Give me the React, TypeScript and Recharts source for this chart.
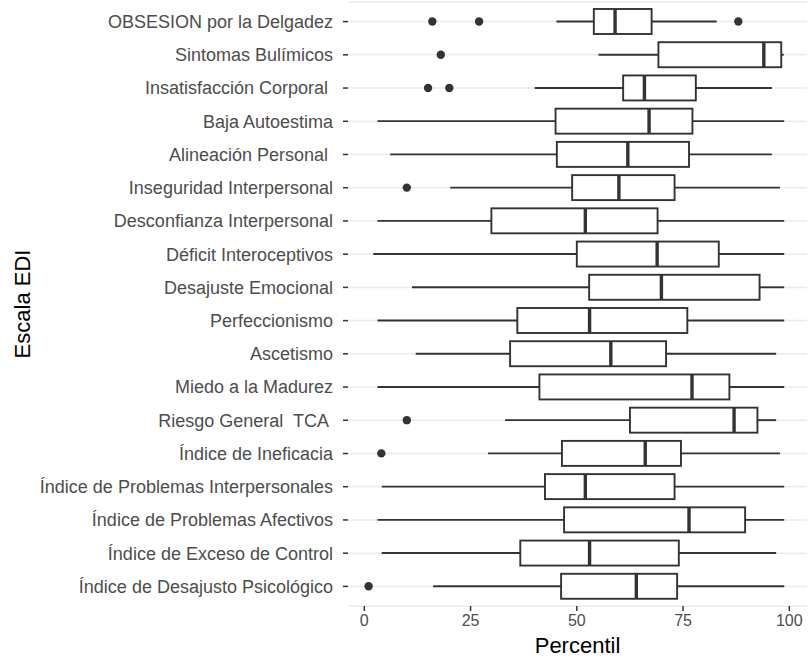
import React from 'react';
import { ComposedChart, Bar, XAxis, YAxis, CartesianGrid } from 'recharts';

// EDI scales, top to bottom (trailing spaces are in the original labels)
const categories = [
  'OBSESION por la Delgadez',
  'Sintomas Bulímicos',
  'Insatisfacción Corporal ',
  'Baja Autoestima',
  'Alineación Personal ',
  'Inseguridad Interpersonal',
  'Desconfianza Interpersonal',
  'Déficit Interoceptivos',
  'Desajuste Emocional',
  'Perfeccionismo',
  'Ascetismo',
  'Miedo a la Madurez',
  'Riesgo General  TCA ',
  'Índice de Ineficacia',
  'Índice de Problemas Interpersonales',
  'Índice de Problemas Afectivos',
  'Índice de Exceso de Control',
  'Índice de Desajusto Psicológico',
];

const whiskerLow = [45.2, 55.1, 40.1, 3.1, 6.1, 20.2, 3.1, 2.1, 11.2, 3.1, 12.1, 3.1, 33.1, 29.1, 4.1, 3.1, 4.1, 16.2];
const q1 = [54.0, 69.2, 60.9, 45.0, 45.3, 48.9, 29.9, 50.0, 52.9, 36.0, 34.3, 41.2, 62.5, 46.5, 42.5, 47.0, 36.7, 46.3];
const median = [59.0, 94.0, 65.9, 67.0, 62.0, 59.9, 52.0, 68.9, 69.9, 53.0, 58.0, 77.1, 87.0, 66.1, 52.0, 76.4, 53.0, 64.0];
const q3 = [67.6, 98.1, 78.0, 77.2, 76.4, 73.0, 69.0, 83.4, 93.0, 76.0, 71.0, 85.9, 92.5, 74.5, 73.0, 89.6, 74.0, 73.6];
const whiskerHigh = [82.9, 98.7, 95.9, 98.8, 95.9, 97.8, 98.8, 98.8, 98.8, 98.8, 96.9, 98.8, 96.9, 97.8, 98.8, 98.8, 96.9, 98.8];
const outliers = [[16, 27, 88], [18], [15, 20], [], [], [10], [], [], [], [], [], [], [10], [4], [], [], [], [1]];

const xTicks = [0, 25, 50, 75, 100];

const data = categories.map((name, i) => ({
  name,
  lo: whiskerLow[i],
  q1: q1[i],
  med: median[i],
  q3: q3[i],
  hi: whiskerHigh[i],
  out: outliers[i],
  range: [whiskerLow[i], whiskerHigh[i]],
}));

const INK = '#333333';

// draws one box: the bar spans lo..hi, everything else is mapped along it
const BoxShape = (props: any) => {
  const { x, y, width, height, payload } = props;
  if (!payload) return null;
  const { lo, hi } = payload;
  const px = (v: number) => x + ((v - lo) / (hi - lo)) * width;
  const cy = y + height / 2;
  return (
    <g>
      <line x1={px(lo)} x2={px(payload.q1)} y1={cy} y2={cy} stroke={INK} strokeWidth={1.9} />
      <line x1={px(payload.q3)} x2={px(hi)} y1={cy} y2={cy} stroke={INK} strokeWidth={1.9} />
      <rect
        x={px(payload.q1)}
        y={y}
        width={px(payload.q3) - px(payload.q1)}
        height={height}
        fill="#ffffff"
        stroke={INK}
        strokeWidth={1.9}
      />
      <line x1={px(payload.med)} x2={px(payload.med)} y1={y} y2={y + height} stroke={INK} strokeWidth={3.4} />
      {payload.out.map((v: number, k: number) => (
        <circle key={k} cx={px(v)} cy={cy} r={4.2} fill={INK} />
      ))}
    </g>
  );
};

const CategoryTick = (props: any) => {
  const { x, y, payload } = props;
  return (
    <text
      x={x}
      y={y}
      dy="0.355em"
      textAnchor="end"
      fill="#4d4d4d"
      fontSize={18}
      style={{ whiteSpace: 'pre' }}
    >
      {payload.value}
    </text>
  );
};

export default function App() {
  return (
    <div style={{ position: 'absolute', left: 0, top: 0, fontFamily: '"Liberation Sans", Arial, sans-serif' }}>
      <ComposedChart
        width={808}
        height={657}
        data={data}
        layout="vertical"
        margin={{ top: 2, right: 1, bottom: 0, left: 0 }}
      >
        <CartesianGrid vertical={false} stroke="#ebebeb" strokeWidth={1.5} />
        <XAxis
          type="number"
          domain={[-3.84, 104.16]}
          ticks={xTicks}
          allowDataOverflow
          height={51}
          axisLine={false}
          tickSize={5}
          tickMargin={4}
          tickLine={{ stroke: INK, strokeWidth: 1.5 }}
          tick={{ fill: '#4d4d4d', fontSize: 16 }}
          label={{
            value: 'Percentil',
            position: 'insideBottom',
            offset: 4,
            style: { fill: '#000000', fontSize: 22 },
          }}
        />
        <YAxis
          type="category"
          dataKey="name"
          width={348}
          padding={{ top: 3, bottom: 3 }}
          axisLine={false}
          tickSize={5}
          tickMargin={10}
          tickLine={{ stroke: INK, strokeWidth: 1.5 }}
          tick={<CategoryTick />}
          interval={0}
          label={{
            value: 'Escala EDI',
            angle: -90,
            position: 'insideLeft',
            offset: 22,
            style: { fill: '#000000', fontSize: 22, textAnchor: 'middle' },
          }}
        />
        <Bar dataKey="range" barSize={25} shape={<BoxShape />} isAnimationActive={false} />
      </ComposedChart>
    </div>
  );
}
